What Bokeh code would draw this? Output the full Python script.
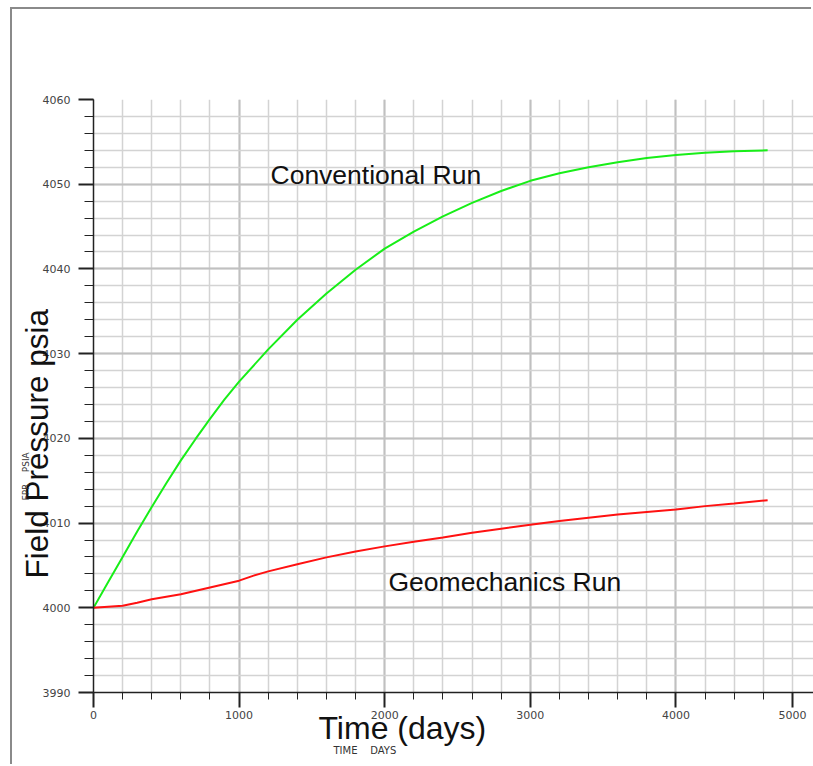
from bokeh.plotting import figure
from bokeh.models import Range1d, SingleIntervalTicker, FixedTicker, Label, Title
from bokeh.embed import file_html
from bokeh.resources import INLINE

# ---- data ----
time_conv = [0, 100, 200, 300, 400, 500, 600, 700, 800, 900, 1000, 1200, 1400, 1600, 1800,
             2000, 2200, 2400, 2600, 2800, 3000, 3200, 3400, 3600, 3800, 4000, 4200, 4400, 4630]
pres_conv = [4000.0, 4003.0, 4006.0, 4009.0, 4011.9, 4014.7, 4017.4, 4019.9, 4022.3, 4024.6,
             4026.7, 4030.5, 4034.0, 4037.1, 4039.9, 4042.4, 4044.4, 4046.2, 4047.8, 4049.2,
             4050.4, 4051.3, 4052.0, 4052.6, 4053.1, 4053.45, 4053.7, 4053.9, 4054.0]

time_geo = [0, 200, 300, 400, 600, 800, 1000, 1100, 1200, 1400, 1600, 1800, 2000, 2200,
            2400, 2600, 2800, 3000, 3200, 3400, 3600, 3800, 4000, 4200, 4400, 4630]
pres_geo = [4000.0, 4000.25, 4000.6, 4001.0, 4001.6, 4002.4, 4003.2, 4003.8, 4004.3, 4005.15,
            4005.95, 4006.65, 4007.25, 4007.8, 4008.3, 4008.85, 4009.33, 4009.8, 4010.24,
            4010.63, 4011.0, 4011.3, 4011.6, 4012.0, 4012.3, 4012.7]

series_names = ["Conventional Run", "Geomechanics Run"]
x_tick_values = [0, 1000, 2000, 3000, 4000, 4800]
x_tick_labels = ["0", "1000", "2000", "3000", "4000", "5000"]
x_minor_ticks = list(range(0, 5000, 200))
x_title = "Time (days)"
y_title = "Field Pressure psia"
NB = "\u00a0"
x_small_title = "TIME" + NB * 4 + "DAYS"
y_small_title = "FPR" + NB * 4 + "PSIA"

# ---- layout constants (page pixels) ----
OX, OY = 12, 9                 # figure offset inside the page (grey frame line drawn outside)
PAGE_W, PAGE_H = 813, 766
W, H = PAGE_W - OX, PAGE_H - OY
FL, FT, FR, FB = 93 - OX, 99 - OY, 0, 74
FW, FH = W - FL - FR, H - FT - FB
X0, X1 = 0, 4945
Y0, Y1 = 3990, 4060


def dx(px):
    return X0 + (px - OX - FL) / FW * (X1 - X0)


def dy(py):
    return Y1 - (py - OY - FT) / FH * (Y1 - Y0)


p = figure(width=W, height=H, x_range=Range1d(X0, X1), y_range=Range1d(Y0, Y1),
           output_backend="svg", toolbar_location=None,
           min_border_left=FL, min_border_right=FR, min_border_top=FT, min_border_bottom=FB)
p.margin = (OY, 0, 0, OX)
p.styles = {"box-shadow": "-2px -2px 0 0 #8a8a8a"}
p.outline_line_color = None
p.background_fill_color = "white"
p.border_fill_color = "white"

p.xaxis.ticker = FixedTicker(ticks=x_tick_values, minor_ticks=x_minor_ticks)
p.xaxis.major_label_overrides = {v: s for v, s in zip(x_tick_values, x_tick_labels)}
p.yaxis.ticker = SingleIntervalTicker(interval=10, num_minor_ticks=5)

for ax in (p.xaxis[0], p.yaxis[0]):
    ax.axis_line_color = "#222222"
    ax.axis_line_width = 1.5
    ax.major_tick_line_color = "#222222"
    ax.major_tick_line_width = 2
    ax.minor_tick_line_color = "#222222"
    ax.minor_tick_line_width = 1
    ax.major_tick_in = 0
    ax.minor_tick_in = 0
    ax.major_tick_out = 15
    ax.major_label_text_font = "DejaVu Sans"
    ax.major_label_text_font_size = "11px"
    ax.major_label_text_color = "#444444"
p.xaxis.minor_tick_out = 7
p.yaxis.minor_tick_out = 9
p.xaxis.major_label_standoff = 3
p.yaxis.major_label_standoff = 8

p.xgrid.ticker = SingleIntervalTicker(interval=1000, num_minor_ticks=5)
for g in (p.xgrid[0], p.ygrid[0]):
    g.grid_line_color = "#c0c0c0"
    g.grid_line_width = 2
    g.minor_grid_line_color = "#d3d3d3"
    g.minor_grid_line_width = 1.5

p.line(time_conv, pres_conv, line_color="#18ee18", line_width=2)
p.line(time_geo, pres_geo, line_color="#ff1111", line_width=2)

p.add_layout(Label(x=dx(270), y=dy(174), text=series_names[0], text_font="Liberation Sans",
                   text_font_size="26.5px", text_color="#111111", text_align="left",
                   text_baseline="middle"))
p.add_layout(Label(x=dx(388), y=dy(581), text=series_names[1], text_font="Liberation Sans",
                   text_font_size="26.5px", text_color="#111111", text_align="left",
                   text_baseline="middle"))

# axis titles as side-panel titles
p.add_layout(Title(text=y_title, align="left", offset=114, vertical_align="bottom",
                   standoff=-30, text_font="Liberation Sans", text_font_size="31.5px",
                   text_font_style="normal", text_color="#111111"), "left")
p.add_layout(Title(text=y_small_title, align="left", offset=192, vertical_align="bottom",
                   standoff=1, text_font="DejaVu Sans", text_font_size="9px",
                   text_font_style="normal", text_color="#333333"), "left")
p.add_layout(Title(text=x_title, align="left", offset=225, vertical_align="top",
                   standoff=-24, text_font="Liberation Sans", text_font_size="32px",
                   text_font_style="normal", text_color="#111111"), "below")
p.add_layout(Title(text=x_small_title, align="left", offset=240, vertical_align="bottom",
                   standoff=15, text_font="DejaVu Sans", text_font_size="10px",
                   text_font_style="normal", text_color="#333333"), "below")

open("out.html", "w").write(file_html(p, INLINE))
